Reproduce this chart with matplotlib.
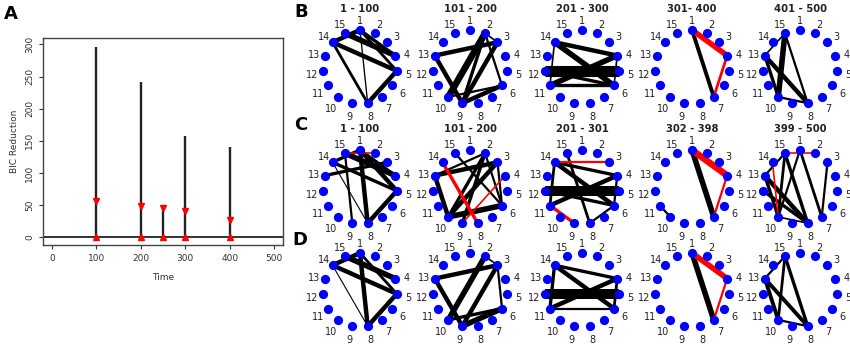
import numpy as np
import matplotlib
matplotlib.use("Agg")
import matplotlib.pyplot as plt

# ---- panel A data ----
times = [100, 200, 250, 300, 400]
bic_top = [296, 241, 45, 158, 141]
bic_mark = [56, 48, 45, 41, 27]

# ---- network panels ----
n_nodes = 15
titles_B = ["1 - 100", "101 - 200", "201 - 300", "301- 400", "401 - 500"]
titles_C = ["1 - 100", "101 - 200", "201 - 301", "302 - 398", "399 - 500"]

# edges: (node_i, node_j, width, colour)  k = black, r = red
edges_B = [
    [(14, 1, 4, 'k'), (15, 4, 5, 'k'), (1, 4, 3, 'k'), (14, 5, 4, 'k'), (1, 5, 2.5, 'k'),
     (14, 8, 2.5, 'k'), (1, 8, 1.2, 'k'), (5, 8, 4, 'k')],
    [(13, 3, 4, 'k'), (13, 9, 4, 'k'), (2, 10, 6, 'k'), (2, 9, 3, 'k'), (3, 9, 4, 'k'),
     (2, 6, 2, 'k'), (9, 6, 4, 'k'), (10, 6, 2, 'k'), (2, 3, 1.5, 'k')],
    [(14, 4, 4, 'k'), (14, 6, 5, 'k'), (12, 5, 10, 'k'), (11, 4, 5, 'k'), (11, 6, 3, 'k'),
     (14, 11, 1.5, 'k'), (4, 6, 1.5, 'k'), (12, 6, 3, 'k')],
    [(1, 7, 3.5, 'k'), (1, 4, 5, 'r'), (4, 7, 2.5, 'r')],
    [(15, 13, 1.5, 'k'), (15, 10, 5, 'k'), (15, 8, 2, 'k'), (13, 8, 4, 'k'), (13, 10, 3, 'k'),
     (10, 8, 2, 'k'), (15, 8, 1, 'k')],
]
edges_C = [
    [(14, 1, 3, 'k'), (13, 3, 3, 'k'), (15, 4, 5, 'k'), (1, 4, 3, 'k'), (1, 5, 4, 'k'),
     (14, 5, 3, 'k'), (15, 9, 2, 'k'), (14, 8, 1, 'k'), (1, 8, 4, 'k'), (8, 5, 4, 'k'),
     (15, 2, 1.5, 'r')],
    [(13, 3, 4, 'k'), (13, 10, 4, 'k'), (2, 10, 3, 'k'), (3, 10, 4, 'k'), (15, 6, 2, 'k'),
     (10, 6, 5, 'k'), (2, 6, 2, 'k'), (3, 6, 2, 'k'), (2, 9, 3, 'k'), (2, 13, 2, 'k'),
     (14, 8, 3, 'r'), (4, 9, 1.5, 'r')],
    [(14, 4, 3, 'k'), (14, 6, 4, 'k'), (12, 5, 9, 'k'), (14, 11, 2.5, 'k'), (15, 8, 2.5, 'k'),
     (11, 4, 4, 'k'), (12, 6, 3, 'k'), (8, 6, 2, 'k'), (4, 6, 2, 'k'),
     (14, 3, 2, 'r'), (11, 9, 3, 'r')],
    [(1, 7, 5, 'k'), (11, 10, 2, 'k'), (1, 4, 6, 'r'), (4, 7, 2, 'r')],
    [(13, 15, 2, 'k'), (15, 10, 2.5, 'k'), (15, 8, 3, 'k'), (1, 10, 2, 'k'), (1, 7, 2.5, 'k'),
     (3, 7, 2, 'k'), (13, 8, 4, 'k'), (13, 10, 3, 'k'), (12, 8, 3, 'k'), (10, 8, 1.5, 'k'),
     (15, 2, 1.5, 'r'), (14, 10, 1.5, 'r')],
]
edges_D = [
    [(14, 1, 4, 'k'), (15, 4, 5, 'k'), (14, 5, 4, 'k'), (1, 5, 2.5, 'k'), (1, 8, 4, 'k'),
     (14, 8, 1, 'k'), (8, 5, 4, 'k')],
    [(13, 3, 4, 'k'), (13, 9, 4, 'k'), (2, 10, 5, 'k'), (3, 9, 4, 'k'), (3, 6, 2, 'k'),
     (9, 6, 5, 'k'), (10, 6, 3, 'k'), (2, 3, 1.5, 'k')],
    [(14, 4, 3, 'k'), (14, 6, 4, 'k'), (12, 5, 9, 'k'), (11, 4, 4, 'k'), (11, 6, 2, 'k'),
     (14, 11, 3, 'k'), (4, 6, 2.5, 'k')],
    [(1, 7, 5, 'k'), (1, 4, 5, 'r'), (4, 7, 2, 'r')],
    [(15, 13, 2, 'k'), (15, 10, 2.5, 'k'), (15, 8, 3, 'k'), (13, 10, 3.5, 'k'), (13, 8, 3.5, 'k'),
     (10, 8, 2, 'k')],
]

W, H = 850, 345
fig = plt.figure(figsize=(W / 100, H / 100), dpi=100)

# ---------------- panel A ----------------
ax = fig.add_axes([43 / W, 1 - 245 / H, 240 / W, 207 / H])
ax.axhline(0, color='#222222', lw=1.3, zorder=1)
ax.vlines(times, 0, bic_top, color='#222222', lw=1.7, zorder=2)
ax.plot(times, bic_mark, 'v', color='red', ms=5, zorder=3)
ax.plot(times, [0] * len(times), '^', color='red', ms=5, zorder=3)
ax.set_xlim(-20, 520)
ax.set_ylim(-12, 310)
ax.set_xticks(range(0, 501, 100))
ax.set_yticks(range(0, 301, 50))
ax.tick_params(labelsize=6.5, colors='#333333', length=3, width=0.8)
plt.setp(ax.get_yticklabels(), rotation=90, va='center')
for s in ax.spines.values():
    s.set_color('#444444')
    s.set_linewidth(1.0)
ax.set_xlabel('Time', fontsize=6.5, color='#333333', labelpad=7)
ax.set_ylabel('BIC Reduction', fontsize=6.5, color='#333333', labelpad=4)
fig.text(11 / W, 1 - 14 / H, 'A', fontsize=13, fontweight='bold', ha='center', va='center')

# ---------------- panels B, C, D ----------------
col_x = [360, 470, 582, 692, 800]
row_y = [67, 187, 290]
rad = 37.0
half = 60.0
ang = np.deg2rad(90 - 24 * np.arange(n_nodes))
nx, ny = np.cos(ang), np.sin(ang)

for r, (edges_row, titles) in enumerate(zip([edges_B, edges_C, edges_D],
                                            [titles_B, titles_C, None])):
    for c, edges in enumerate(edges_row):
        cx, cy = col_x[c], row_y[r]
        a = fig.add_axes([(cx - half) / W, 1 - (cy + half) / H, 2 * half / W, 2 * half / H])
        a.set_xlim(-half / rad, half / rad)
        a.set_ylim(-half / rad, half / rad)
        a.axis('off')
        for i, j, w, col in edges:
            a.plot([nx[i - 1], nx[j - 1]], [ny[i - 1], ny[j - 1]],
                   color='red' if col == 'r' else 'black', lw=w * 0.8,
                   solid_capstyle='butt', zorder=2, clip_on=False)
        a.scatter(nx, ny, s=44, color='#0000ff', zorder=3, clip_on=False, linewidths=0)
        for k in range(n_nodes):
            lx = nx[k] * (1 + 11.5 / rad)
            ly = ny[k] * (1 + 11.5 / rad) - 2.5 / rad
            a.text(lx, ly, str(k + 1), fontsize=7, ha='center', va='center', color='#222222')
        if titles is not None:
            fig.text(cx / W, 1 - (cy - 58) / H, titles[c], fontsize=7.2,
                     fontweight='bold', ha='center', va='center', color='#222222')

for lab, (lx, ly) in zip('BCD', [(301, 12), (301, 125), (300, 240)]):
    fig.text(lx / W, 1 - ly / H, lab, fontsize=13, fontweight='bold', ha='center', va='center')

fig.savefig('out.png', dpi=100)
